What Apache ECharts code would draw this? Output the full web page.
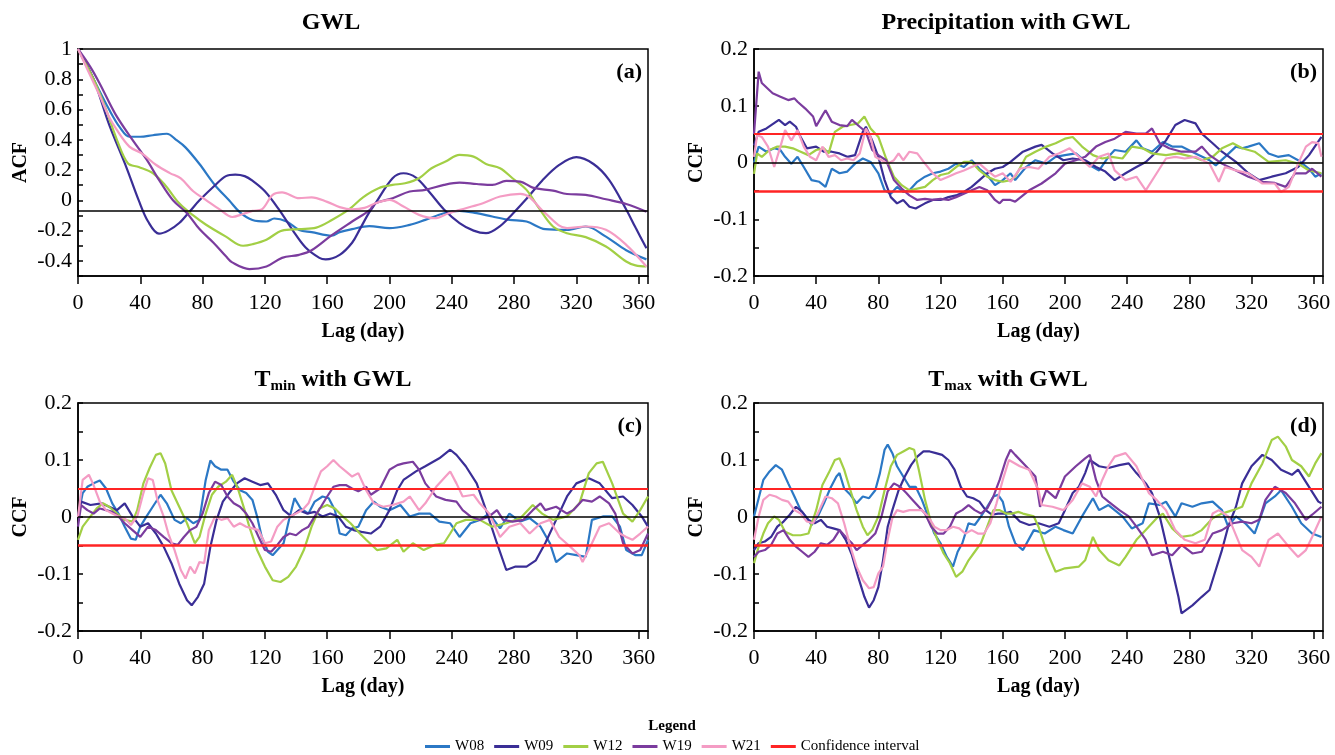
<!DOCTYPE html>
<html>
<head>
<meta charset="utf-8">
<title>GWL ACF / CCF</title>
<script src="https://cdn.jsdelivr.net/npm/echarts@6/dist/echarts.min.js"></script>
<style>
html, body { margin: 0; padding: 0; background: #fff; }
#chart { width: 1335px; height: 755px; }
</style>
</head>
<body>
<div id="chart"></div>
<script>
//== Stations and colours
var stations = ['W08', 'W09', 'W12', 'W19', 'W21'];
var stationColors = ['#2b78c5', '#3a2e96', '#a2cf45', '#7b3c9e', '#f49cc4'];
var confColor = '#ff2424';

//== Reference levels
var confLevel = 0.053;       // 95% confidence band (b, c, d)
var acfRefLevel = -0.07;     // black line in panel (a)

//== (a) GWL autocorrelation  [lag, ACF]
var acfW08 = [[0,1],[10,0.8],[20,0.6],[27,0.48],[33,0.42],[40,0.42],[48,0.43],[57,0.44],[63,0.4],[69,0.35],[78,0.24],[88,0.1],[97,0.0],[104,-0.08],[112,-0.13],[121,-0.14],[126,-0.12],[134,-0.14],[142,-0.196],[150,-0.21],[163,-0.234],[168,-0.21],[176,-0.19],[187,-0.17],[200,-0.184],[213,-0.162],[223,-0.129],[235,-0.085],[245,-0.069],[256,-0.085],[266,-0.107],[277,-0.129],[288,-0.14],[300,-0.19],[314,-0.195],[326,-0.173],[339,-0.24],[352,-0.33],[365,-0.39]];
var acfW09 = [[0,1],[10,0.8],[20,0.5],[31,0.22],[39,0.0],[45,-0.14],[52,-0.22],[58,-0.2],[65,-0.15],[72,-0.07],[78,0.0],[88,0.1],[95,0.16],[101,0.17],[107,0.16],[112,0.13],[120,0.06],[129,-0.06],[138,-0.2],[146,-0.31],[155,-0.38],[159,-0.39],[168,-0.36],[176,-0.28],[181,-0.19],[187,-0.08],[191,-0.02],[202,0.146],[209,0.179],[217,0.15],[226,0.05],[235,-0.06],[245,-0.15],[254,-0.2],[262,-0.217],[271,-0.17],[279,-0.09],[288,0.01],[298,0.13],[309,0.234],[320,0.285],[331,0.24],[341,0.135],[352,-0.06],[358,-0.18],[365,-0.316]];
var acfW12 = [[0,1],[10,0.8],[18,0.6],[25,0.4],[32,0.245],[39,0.22],[48,0.18],[56,0.1],[65,-0.02],[74,-0.1],[82,-0.16],[95,-0.24],[106,-0.3],[112,-0.29],[121,-0.26],[131,-0.2],[142,-0.19],[153,-0.18],[163,-0.13],[174,-0.06],[183,0.02],[193,0.08],[202,0.102],[210,0.113],[219,0.146],[227,0.212],[236,0.256],[245,0.3],[254,0.289],[262,0.24],[271,0.212],[279,0.146],[288,0.069],[296,-0.052],[305,-0.173],[314,-0.217],[326,-0.243],[339,-0.305],[352,-0.404],[358,-0.43],[365,-0.437]];
var acfW19 = [[0,1],[8,0.88],[14,0.77],[24,0.57],[35,0.4],[44,0.27],[52,0.135],[61,0.0],[70,-0.085],[78,-0.19],[87,-0.28],[95,-0.37],[99,-0.41],[110,-0.454],[121,-0.437],[131,-0.38],[142,-0.36],[150,-0.33],[163,-0.23],[176,-0.14],[187,-0.066],[191,-0.02],[202,0.014],[213,0.058],[223,0.069],[235,0.102],[245,0.117],[256,0.108],[266,0.102],[275,0.128],[284,0.124],[292,0.084],[305,0.064],[314,0.042],[326,0.036],[339,0.007],[352,-0.024],[365,-0.075]];
var acfW21 = [[0,1],[9,0.8],[14,0.69],[20,0.55],[24,0.48],[33,0.355],[41,0.31],[50,0.235],[59,0.18],[66,0.145],[74,0.06],[82,0.003],[91,-0.06],[99,-0.11],[106,-0.09],[112,-0.07],[118,-0.06],[125,0.036],[131,0.053],[142,0.014],[150,0.02],[160,-0.01],[168,-0.045],[176,-0.06],[184,-0.05],[191,-0.019],[200,0.003],[209,-0.041],[219,-0.096],[229,-0.118],[238,-0.085],[249,-0.052],[260,-0.019],[271,0.025],[284,0.043],[290,0.02],[300,-0.085],[314,-0.184],[326,-0.173],[339,-0.195],[352,-0.294],[365,-0.437]];

//== (b) Precipitation with GWL  [lag, CCF]
var precW08 = [[0,0.0],[3,0.028],[8,0.019],[13,0.025],[17,0.022],[20,0.010],[24,-0.002],[28,0.010],[32,-0.008],[37,-0.031],[42,-0.034],[46,-0.043],[50,-0.011],[55,-0.019],[60,-0.016],[65,-0.002],[70,0.007],[75,0.001],[80,-0.019],[84,-0.049],[88,-0.055],[92,-0.043],[96,-0.052],[100,-0.049],[105,-0.034],[110,-0.025],[115,-0.019],[120,-0.016],[125,-0.011],[130,-0.002],[135,-0.008],[140,0.004],[145,-0.011],[150,-0.022],[155,-0.040],[160,-0.031],[165,-0.019],[168,-0.031],[175,-0.008],[181,0.004],[188,-0.002],[194,0.010],[200,0.013],[207,0.016],[211,0.007],[216,-0.005],[222,-0.014],[228,0.010],[232,0.022],[239,0.019],[246,0.039],[250,0.025],[256,0.019],[263,0.036],[269,0.028],[275,0.028],[284,0.016],[293,0.004],[297,-0.005],[303,0.010],[310,0.028],[314,0.025],[318,0.028],[325,0.034],[331,0.016],[337,0.010],[344,0.013],[350,0.004],[357,-0.011],[361,-0.025],[365,-0.019]];
var precW09 = [[0,0.03],[3,0.054],[8,0.060],[16,0.075],[20,0.066],[23,0.072],[27,0.063],[30,0.045],[34,0.025],[40,0.028],[45,0.019],[50,0.019],[55,0.016],[60,0.010],[65,0.013],[70,0.054],[72,0.063],[76,0.039],[80,0.010],[84,-0.031],[88,-0.061],[92,-0.072],[96,-0.066],[100,-0.078],[104,-0.081],[110,-0.072],[115,-0.066],[120,-0.066],[125,-0.061],[130,-0.058],[135,-0.052],[140,-0.043],[145,-0.031],[150,-0.019],[155,-0.011],[160,-0.008],[165,0.001],[173,0.019],[181,0.028],[185,0.031],[192,0.016],[199,0.004],[205,0.007],[213,0.004],[220,-0.008],[226,-0.016],[232,-0.031],[239,-0.019],[246,-0.008],[252,0.001],[259,0.019],[265,0.039],[271,0.066],[277,0.075],[284,0.069],[288,0.051],[295,0.034],[301,0.019],[310,0.001],[318,-0.019],[325,-0.031],[333,-0.025],[342,-0.019],[350,-0.008],[357,0.013],[365,0.045]];
var precW12 = [[0,-0.02],[2,0.016],[5,0.010],[10,0.022],[15,0.028],[20,0.028],[25,0.025],[30,0.019],[35,0.013],[40,0.022],[45,0.025],[48,0.016],[52,0.054],[57,0.063],[62,0.066],[67,0.069],[71,0.081],[75,0.060],[80,0.045],[85,0.007],[90,-0.025],[95,-0.040],[100,-0.049],[105,-0.046],[110,-0.043],[115,-0.031],[120,-0.022],[125,-0.019],[130,-0.008],[135,0.001],[140,0.001],[145,-0.014],[150,-0.025],[155,-0.031],[160,-0.034],[165,-0.031],[168,-0.025],[175,0.010],[181,0.019],[188,0.028],[194,0.034],[200,0.042],[205,0.045],[211,0.028],[218,0.013],[224,0.007],[230,0.010],[237,0.007],[243,0.028],[250,0.025],[256,0.016],[265,0.013],[273,0.016],[282,0.010],[288,0.004],[295,0.010],[301,0.025],[308,0.034],[314,0.025],[322,0.019],[331,0.001],[342,0.004],[350,-0.002],[357,-0.014],[365,-0.019]];
var precW19 = [[0,0.05],[3,0.16],[5,0.14],[12,0.122],[17,0.116],[22,0.11],[26,0.113],[28,0.107],[33,0.095],[38,0.081],[40,0.064],[44,0.083],[46,0.092],[50,0.072],[55,0.066],[60,0.064],[63,0.075],[68,0.063],[72,0.054],[76,0.022],[80,0.013],[85,0.004],[90,-0.031],[95,-0.046],[100,-0.058],[105,-0.066],[110,-0.064],[115,-0.066],[120,-0.064],[125,-0.066],[130,-0.061],[135,-0.055],[140,-0.049],[145,-0.043],[150,-0.049],[155,-0.066],[158,-0.072],[160,-0.066],[165,-0.066],[168,-0.069],[177,-0.049],[185,-0.037],[194,-0.019],[200,-0.002],[207,0.004],[213,0.010],[220,0.028],[226,0.036],[232,0.042],[239,0.054],[246,0.051],[252,0.051],[256,0.06],[261,0.034],[267,0.025],[275,0.019],[284,0.019],[288,0.028],[293,0.013],[301,-0.002],[310,-0.014],[318,-0.025],[327,-0.034],[335,-0.036],[342,-0.043],[348,-0.019],[355,-0.019],[359,-0.011],[365,-0.025]];
var precW21 = [[0,0.010],[2,0.048],[5,0.045],[9,0.028],[13,-0.008],[17,0.028],[20,0.057],[24,0.039],[28,0.057],[32,0.028],[36,0.010],[40,0.004],[44,0.028],[48,0.010],[52,0.013],[56,0.004],[60,0.007],[64,0.004],[68,0.016],[72,0.060],[75,0.045],[78,0.010],[82,0.004],[86,-0.002],[90,0.004],[93,0.016],[96,0.004],[100,0.019],[105,0.016],[110,-0.002],[115,-0.019],[120,-0.031],[125,-0.025],[130,-0.019],[135,-0.014],[140,-0.008],[145,-0.002],[150,-0.014],[155,-0.025],[160,-0.019],[165,-0.034],[171,-0.011],[177,-0.008],[183,-0.011],[190,0.010],[196,0.016],[203,0.025],[209,0.010],[216,-0.008],[222,0.010],[228,0.016],[232,-0.014],[239,-0.031],[246,-0.025],[252,-0.049],[259,-0.019],[265,0.007],[271,0.010],[277,0.007],[284,0.010],[293,-0.002],[299,-0.034],[303,-0.008],[310,-0.014],[318,-0.019],[327,-0.037],[335,-0.037],[339,-0.052],[344,-0.043],[350,-0.002],[355,0.028],[359,0.036],[363,0.034],[365,0.010]];

//== (c) Tmin with GWL  [lag, CCF]
var tminW08 = [[0,0.001],[3,0.042],[6,0.053],[10,0.059],[14,0.064],[18,0.050],[22,0.024],[26,0.006],[30,-0.017],[34,-0.038],[37,-0.040],[40,-0.017],[44,0.001],[48,0.018],[53,0.039],[57,0.024],[62,-0.005],[66,-0.011],[70,-0.002],[74,-0.011],[78,-0.005],[82,0.065],[85,0.099],[88,0.089],[92,0.083],[96,0.083],[100,0.062],[104,0.047],[108,0.042],[112,0.030],[115,0.001],[118,-0.035],[122,-0.061],[125,-0.067],[128,-0.058],[132,-0.046],[136,0.001],[139,0.033],[143,0.015],[148,0.006],[152,0.027],[157,0.036],[161,0.033],[165,0.012],[168,-0.029],[172,-0.032],[176,-0.020],[180,-0.017],[185,0.012],[190,0.027],[194,0.018],[200,0.012],[207,0.021],[213,0.001],[219,0.006],[226,0.006],[232,-0.008],[239,-0.011],[245,-0.035],[252,-0.011],[258,-0.005],[264,0.006],[271,-0.020],[277,0.006],[284,-0.008],[290,-0.002],[297,-0.017],[303,-0.046],[307,-0.079],[314,-0.064],[320,-0.067],[326,-0.070],[330,-0.005],[337,0.001],[343,0.001],[348,-0.017],[352,-0.058],[358,-0.067],[362,-0.067],[366,-0.040]];
var tminW09 = [[0,0.001],[2,0.027],[8,0.021],[15,0.024],[20,0.018],[25,0.012],[30,0.024],[35,0.001],[40,-0.017],[45,-0.011],[50,-0.029],[55,-0.052],[60,-0.081],[65,-0.117],[70,-0.146],[73,-0.155],[77,-0.140],[81,-0.117],[85,-0.052],[89,-0.005],[93,0.027],[97,0.042],[102,0.059],[107,0.068],[112,0.062],[117,0.056],[122,0.059],[127,0.039],[132,0.012],[137,0.001],[142,0.012],[147,0.006],[152,0.009],[157,0.001],[162,0.006],[167,0.001],[172,-0.017],[177,-0.023],[182,-0.026],[188,-0.029],[194,-0.017],[200,0.012],[205,0.047],[209,0.065],[217,0.080],[223,0.089],[232,0.103],[239,0.118],[243,0.109],[249,0.089],[256,0.059],[262,0.012],[269,-0.046],[275,-0.093],[281,-0.087],[288,-0.087],[294,-0.076],[300,-0.046],[307,-0.005],[314,0.036],[320,0.059],[328,0.068],[335,0.059],[343,0.033],[350,0.036],[356,0.021],[362,0.001],[366,-0.017]];
var tminW12 = [[0,-0.040],[3,-0.017],[8,0.001],[12,0.015],[16,0.024],[20,0.018],[25,0.006],[30,-0.005],[35,-0.008],[38,0.012],[42,0.059],[46,0.086],[50,0.109],[53,0.112],[56,0.094],[60,0.047],[65,0.018],[70,-0.011],[75,-0.046],[78,-0.035],[82,0.006],[86,0.039],[90,0.053],[95,0.062],[99,0.074],[103,0.047],[107,0.012],[110,-0.017],[115,-0.058],[120,-0.087],[125,-0.111],[130,-0.114],[135,-0.105],[140,-0.087],[145,-0.058],[150,-0.017],[155,0.015],[160,0.021],[165,0.015],[170,0.001],[175,-0.011],[181,-0.029],[185,-0.040],[192,-0.058],[198,-0.055],[205,-0.040],[209,-0.061],[215,-0.046],[222,-0.058],[229,-0.049],[235,-0.046],[239,-0.029],[243,-0.011],[249,-0.005],[258,-0.005],[266,-0.017],[275,-0.011],[284,-0.002],[292,0.021],[298,0.006],[305,-0.005],[314,0.001],[322,0.024],[328,0.077],[333,0.094],[337,0.097],[343,0.059],[350,0.006],[356,-0.008],[361,0.012],[366,0.036]];
var tminW19 = [[0,-0.017],[2,0.021],[6,0.012],[10,0.006],[14,0.015],[18,0.012],[22,0.009],[26,0.001],[30,-0.011],[35,-0.023],[40,-0.035],[45,-0.017],[50,-0.023],[55,-0.035],[60,-0.046],[64,-0.049],[68,-0.035],[72,-0.023],[76,-0.017],[80,0.006],[84,0.042],[88,0.062],[92,0.056],[96,0.036],[100,0.024],[104,0.018],[108,0.006],[112,-0.011],[116,-0.035],[120,-0.058],[124,-0.061],[128,-0.049],[132,-0.035],[136,-0.029],[140,-0.032],[144,-0.023],[148,-0.017],[152,0.001],[156,0.018],[160,0.036],[164,0.053],[168,0.056],[172,0.056],[176,0.050],[180,0.045],[185,0.053],[188,0.039],[194,0.050],[200,0.083],[205,0.091],[209,0.094],[215,0.097],[219,0.083],[223,0.059],[230,0.036],[236,0.030],[243,0.027],[247,0.012],[252,0.001],[258,-0.005],[264,0.001],[269,0.012],[273,-0.005],[279,-0.008],[286,-0.005],[292,0.012],[297,0.024],[300,0.012],[307,0.018],[314,0.006],[318,0.012],[324,0.030],[330,0.027],[335,0.036],[341,0.024],[345,0.006],[350,-0.046],[356,-0.064],[361,-0.058],[366,-0.029]];
var tminW21 = [[0,0.0],[3,0.065],[7,0.074],[10,0.056],[14,0.027],[18,0.012],[22,0.006],[26,0.001],[30,-0.002],[34,-0.014],[38,0.001],[42,0.042],[45,0.068],[48,0.065],[51,0.030],[55,0.001],[58,-0.029],[62,-0.058],[66,-0.093],[69,-0.108],[72,-0.087],[75,-0.099],[78,-0.079],[81,-0.081],[84,-0.023],[88,0.001],[92,-0.005],[96,-0.002],[100,-0.017],[104,-0.011],[108,-0.017],[112,-0.020],[116,-0.023],[120,-0.046],[124,-0.043],[128,-0.017],[132,-0.005],[136,0.001],[140,0.006],[144,0.012],[148,0.024],[152,0.053],[156,0.080],[160,0.089],[164,0.100],[168,0.089],[172,0.080],[176,0.071],[180,0.077],[185,0.047],[190,0.024],[196,0.018],[202,0.021],[209,0.027],[213,0.036],[219,0.012],[223,0.024],[230,0.053],[236,0.071],[239,0.080],[243,0.059],[247,0.036],[254,0.039],[258,0.024],[264,0.006],[271,-0.035],[277,-0.017],[284,-0.011],[290,-0.029],[297,-0.011],[303,-0.005],[309,-0.035],[316,-0.052],[322,-0.067],[324,-0.079],[330,-0.046],[335,-0.017],[341,-0.011],[348,-0.029],[352,-0.035],[356,-0.040],[361,-0.029],[366,-0.017]];

//== (d) Tmax with GWL  [lag, CCF]
var tmaxW08 = [[0,0.001],[3,0.033],[6,0.065],[10,0.080],[14,0.091],[18,0.083],[22,0.059],[26,0.036],[30,0.012],[34,-0.002],[37,-0.014],[41,0.001],[45,0.024],[49,0.050],[53,0.071],[55,0.077],[58,0.050],[62,0.039],[66,0.024],[70,0.036],[74,0.033],[78,0.047],[81,0.077],[84,0.118],[86,0.127],[89,0.112],[92,0.089],[96,0.071],[100,0.053],[104,0.053],[108,0.030],[112,0.001],[116,-0.029],[120,-0.046],[124,-0.070],[128,-0.087],[131,-0.061],[134,-0.046],[138,-0.011],[142,-0.014],[146,0.001],[150,0.018],[154,0.036],[157,0.039],[160,0.027],[164,-0.017],[168,-0.046],[173,-0.058],[180,-0.023],[187,-0.029],[194,-0.017],[199,-0.023],[205,-0.029],[211,0.001],[218,0.033],[222,0.012],[228,0.021],[232,0.012],[237,0.001],[243,-0.020],[250,-0.011],[254,0.024],[261,0.021],[265,0.027],[271,0.001],[275,0.024],[282,0.018],[288,0.024],[295,0.027],[301,0.012],[305,-0.017],[310,0.001],[316,-0.011],[322,-0.029],[329,0.024],[335,0.036],[339,0.047],[346,0.018],[352,-0.011],[359,-0.029],[365,-0.035]];
var tmaxW09 = [[0,-0.058],[3,-0.046],[7,-0.043],[11,-0.035],[15,-0.017],[19,-0.008],[23,0.004],[27,0.018],[31,0.009],[35,-0.005],[39,-0.011],[43,-0.005],[47,-0.017],[51,-0.020],[55,-0.023],[59,-0.040],[63,-0.067],[67,-0.105],[71,-0.140],[74,-0.159],[77,-0.146],[80,-0.123],[83,-0.076],[86,-0.017],[89,0.012],[93,0.047],[97,0.071],[101,0.091],[105,0.106],[109,0.115],[113,0.115],[117,0.112],[121,0.109],[125,0.100],[129,0.083],[133,0.053],[137,0.036],[141,0.033],[145,0.027],[149,0.012],[153,0.004],[157,0.006],[161,0.006],[165,0.009],[171,-0.008],[177,-0.014],[183,-0.011],[190,-0.017],[196,-0.011],[200,0.012],[205,0.042],[209,0.053],[213,0.077],[216,0.100],[222,0.089],[228,0.086],[235,0.091],[241,0.094],[246,0.077],[252,0.059],[256,0.042],[261,0.001],[265,-0.046],[269,-0.093],[273,-0.140],[275,-0.169],[282,-0.155],[288,-0.140],[293,-0.128],[297,-0.093],[301,-0.058],[305,-0.017],[310,0.018],[314,0.059],[320,0.089],[327,0.109],[333,0.100],[339,0.083],[346,0.074],[350,0.083],[357,0.053],[363,0.027],[365,0.024]];
var tmaxW12 = [[0,-0.081],[3,-0.052],[6,-0.029],[9,-0.011],[13,0.001],[16,-0.005],[20,-0.026],[25,-0.032],[30,-0.032],[35,-0.029],[40,0.012],[44,0.056],[48,0.077],[52,0.100],[55,0.103],[58,0.083],[62,0.047],[66,0.012],[70,-0.017],[73,-0.032],[76,-0.023],[80,0.001],[84,0.047],[88,0.089],[92,0.109],[96,0.115],[100,0.121],[103,0.118],[106,0.083],[110,0.030],[114,-0.011],[118,-0.040],[122,-0.064],[126,-0.081],[130,-0.105],[134,-0.096],[138,-0.076],[142,-0.061],[146,-0.046],[150,-0.017],[154,0.012],[158,0.012],[162,0.006],[166,0.006],[170,0.009],[173,0.006],[180,0.001],[183,-0.017],[188,-0.058],[194,-0.096],[200,-0.090],[209,-0.087],[213,-0.076],[218,-0.035],[222,-0.058],[228,-0.076],[235,-0.085],[239,-0.070],[246,-0.040],[252,-0.023],[259,-0.002],[263,0.006],[269,-0.020],[275,-0.035],[282,-0.032],[288,-0.023],[295,-0.002],[301,0.006],[308,0.012],[314,0.018],[320,0.059],[327,0.094],[333,0.135],[337,0.141],[342,0.124],[346,0.100],[352,0.089],[357,0.071],[361,0.094],[365,0.112]];
var tmaxW19 = [[0,-0.070],[3,-0.061],[7,-0.058],[11,-0.049],[15,-0.029],[19,-0.023],[23,-0.040],[27,-0.052],[31,-0.061],[35,-0.070],[39,-0.061],[43,-0.046],[47,-0.049],[51,-0.040],[55,-0.023],[59,-0.035],[63,-0.046],[66,-0.058],[70,-0.049],[74,-0.040],[78,-0.029],[82,0.001],[86,0.045],[90,0.059],[94,0.053],[98,0.042],[102,0.030],[106,0.018],[110,0.006],[114,-0.017],[118,-0.029],[122,-0.029],[126,-0.017],[130,0.006],[134,0.012],[138,0.021],[142,0.012],[146,0.006],[150,0.015],[154,0.036],[158,0.065],[162,0.100],[165,0.118],[168,0.109],[175,0.089],[181,0.071],[184,0.018],[188,0.047],[194,0.033],[200,0.071],[207,0.089],[213,0.103],[216,0.109],[220,0.065],[224,0.036],[228,0.027],[235,0.012],[241,0.001],[246,-0.017],[252,-0.040],[256,-0.067],[263,-0.061],[269,-0.067],[275,-0.049],[282,-0.064],[288,-0.061],[295,-0.029],[301,-0.023],[308,-0.011],[314,-0.008],[320,-0.011],[325,-0.005],[329,0.030],[335,0.053],[342,0.042],[348,0.024],[355,-0.005],[359,0.004],[365,0.018]];
var tmaxW21 = [[0,-0.040],[3,0.001],[6,0.030],[10,0.039],[14,0.036],[18,0.030],[22,0.027],[26,0.012],[30,0.006],[34,-0.008],[38,-0.011],[42,0.012],[46,0.036],[50,0.033],[54,0.024],[58,-0.011],[62,-0.052],[66,-0.087],[70,-0.111],[74,-0.125],[77,-0.123],[80,-0.099],[83,-0.087],[86,-0.040],[89,-0.002],[92,0.012],[96,0.009],[100,0.012],[104,0.012],[108,0.012],[112,0.001],[116,-0.017],[120,-0.023],[124,-0.023],[128,-0.017],[132,-0.020],[136,-0.029],[140,-0.023],[144,-0.029],[148,-0.029],[152,-0.011],[156,0.024],[160,0.065],[164,0.100],[171,0.089],[177,0.083],[183,0.047],[185,0.021],[192,0.018],[199,0.012],[205,0.030],[211,0.059],[216,0.053],[220,0.036],[224,0.065],[228,0.089],[232,0.106],[239,0.112],[246,0.089],[250,0.065],[254,0.042],[259,0.030],[265,0.012],[271,-0.023],[277,-0.040],[284,-0.046],[290,-0.040],[295,0.006],[299,0.012],[305,0.001],[314,-0.058],[320,-0.070],[325,-0.087],[331,-0.040],[337,-0.029],[344,-0.052],[350,-0.070],[355,-0.058],[359,-0.035],[365,0.001]];

//== Panel set-up
var SERIF = '"Liberation Serif", "Times New Roman", serif';
var panels = [
    {data: [acfW08, acfW09, acfW12, acfW19, acfW21], yName: 'ACF', yMin: -0.5, yMax: 1, yStep: 0.1, labelEvery: 0.2,
     ref: acfRefLevel, conf: false, smooth: 0.35, grid: {left: 78, top: 49, width: 570, height: 227}, tag: '(a)'},
    {data: [precW08, precW09, precW12, precW19, precW21], yName: 'CCF', yMin: -0.2, yMax: 0.2, yStep: 0.05, labelEvery: 0.1,
     ref: 0, conf: true, smooth: false, grid: {left: 754, top: 49, width: 569, height: 227}, tag: '(b)'},
    {data: [tminW08, tminW09, tminW12, tminW19, tminW21], yName: 'CCF', yMin: -0.2, yMax: 0.2, yStep: 0.05, labelEvery: 0.1,
     ref: 0, conf: true, smooth: false, grid: {left: 78, top: 403, width: 570, height: 228}, tag: '(c)'},
    {data: [tmaxW08, tmaxW09, tmaxW12, tmaxW19, tmaxW21], yName: 'CCF', yMin: -0.2, yMax: 0.2, yStep: 0.05, labelEvery: 0.1,
     ref: 0, conf: true, smooth: false, grid: {left: 754, top: 403, width: 569, height: 228}, tag: '(d)'}
];

var axisText = {fontFamily: SERIF, fontSize: 22, color: '#000'};
var nameText = {fontFamily: SERIF, fontSize: 20, fontWeight: 'bold', color: '#000'};
var black = {color: '#000', width: 1.5};

var grids = [], xAxes = [], yAxes = [], series = [], graphics = [];

panels.forEach(function (p, i) {
    grids.push({left: p.grid.left, top: p.grid.top, width: p.grid.width, height: p.grid.height,
        show: true, borderColor: '#000', borderWidth: 1.5, backgroundColor: 'transparent'});

    xAxes.push({
        gridIndex: i, type: 'value', min: 0, max: 366, interval: 40,
        axisLine: {show: true, onZero: false, lineStyle: black},
        axisTick: {show: true, inside: false, length: 8, lineStyle: black},
        axisLabel: Object.assign({margin: 16, formatter: function (v) { return v % 40 === 0 ? String(v) : ''; }}, axisText),
        splitLine: {show: false},
        name: 'Lag (day)', nameLocation: 'middle', nameGap: 46, nameTextStyle: nameText
    });

    var labelMod = Math.round(p.labelEvery / p.yStep);
    yAxes.push({
        gridIndex: i, type: 'value', min: p.yMin, max: p.yMax, interval: p.yStep,
        axisLine: {show: true, onZero: false, lineStyle: black},
        axisTick: {show: true, inside: true, length: 5, lineStyle: black},
        axisLabel: Object.assign({margin: 6, formatter: function (v) {
            var k = Math.round(v / p.yStep);
            if (k % labelMod !== 0) return '';
            return String(Math.round(v * 100) / 100);
        }}, axisText),
        splitLine: {show: false},
        name: p.yName, nameLocation: 'middle', nameGap: 47, nameRotate: 90, nameTextStyle: nameText
    });

    // station curves
    p.data.forEach(function (d, s) {
        series.push({
            type: 'line', name: stations[s], xAxisIndex: i, yAxisIndex: i, data: d,
            symbol: 'none', smooth: p.smooth, silent: true, z: 3,
            lineStyle: {width: 2.2, color: stationColors[s]}, itemStyle: {color: stationColors[s]}
        });
    });

    // black reference line
    series.push({
        type: 'line', name: 'ref' + i, xAxisIndex: i, yAxisIndex: i, data: [], silent: true,
        markLine: {symbol: ['none', 'none'], silent: true, label: {show: false}, animation: false,
            lineStyle: {color: '#000', width: 1.5, type: 'solid'}, data: [{yAxis: p.ref}]}
    });

    // confidence interval
    if (p.conf) {
        series.push({
            type: 'line', name: 'Confidence interval', xAxisIndex: i, yAxisIndex: i, data: [], silent: true,
            itemStyle: {color: confColor}, lineStyle: {color: confColor},
            markLine: {symbol: ['none', 'none'], silent: true, label: {show: false}, animation: false,
                lineStyle: {color: confColor, width: 2, type: 'solid'},
                data: [{yAxis: confLevel}, {yAxis: -confLevel, lineStyle: {width: 2.6}}]}
        });
    }

    graphics.push({type: 'text', x: p.grid.left + p.grid.width - 6, y: p.grid.top + 23,
        style: {text: p.tag, font: 'bold 22px ' + SERIF, fill: '#000', textAlign: 'right', textVerticalAlign: 'middle'}});
});

//== Titles
var titleFont = 'bold 24px ' + SERIF;
var subFont = 'bold 15px ' + SERIF;
graphics.push({type: 'text', x: 331, y: 23, style: {text: 'GWL', font: titleFont, fill: '#000', textAlign: 'center', textVerticalAlign: 'middle'}});
graphics.push({type: 'text', x: 1006, y: 23, style: {text: 'Precipitation with GWL', font: titleFont, fill: '#000', textAlign: 'center', textVerticalAlign: 'middle'}});
graphics.push({type: 'text', x: 333, y: 380, style: {text: '{t|T}{s|min}{t| with GWL}', fill: '#000', textAlign: 'center', textVerticalAlign: 'middle',
    rich: {t: {font: titleFont, lineHeight: 28, verticalAlign: 'middle'}, s: {font: subFont, lineHeight: 12, verticalAlign: 'bottom'}}}});
graphics.push({type: 'text', x: 1008, y: 380, style: {text: '{t|T}{s|max}{t| with GWL}', fill: '#000', textAlign: 'center', textVerticalAlign: 'middle',
    rich: {t: {font: titleFont, lineHeight: 28, verticalAlign: 'middle'}, s: {font: subFont, lineHeight: 12, verticalAlign: 'bottom'}}}});
graphics.push({type: 'text', x: 672, y: 726, style: {text: 'Legend', font: 'bold 15px ' + SERIF, fill: '#000', textAlign: 'center', textVerticalAlign: 'middle'}});

var chart = echarts.init(document.getElementById('chart'), null, {renderer: 'canvas'});
chart.setOption({
    animation: false,
    backgroundColor: '#fff',
    grid: grids,
    xAxis: xAxes,
    yAxis: yAxes,
    series: series,
    graphic: graphics,
    legend: {
        data: ['W08', 'W09', 'W12', 'W19', 'W21', 'Confidence interval'],
        left: 425, top: 739, padding: 0, itemWidth: 25, itemHeight: 3, itemGap: 10, icon: 'rect',
        textStyle: {fontFamily: SERIF, fontSize: 15, color: '#000'}, selectedMode: false
    }
});
</script>
</body>
</html>
